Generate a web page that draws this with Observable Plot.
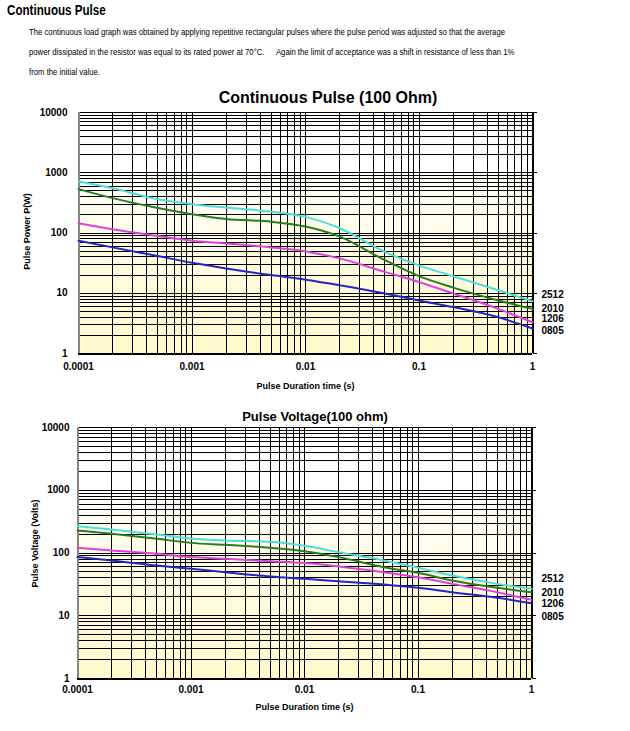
<!DOCTYPE html>
<html>
<head>
<meta charset="utf-8">
<script src="https://cdn.jsdelivr.net/npm/d3@7"></script>
<script src="https://cdn.jsdelivr.net/npm/@observablehq/plot@0.6"></script>
<style>
  body { margin: 0; background: #fff; }
  #page { position: relative; width: 630px; height: 731px; overflow: hidden; font-family: "Liberation Sans", Arial, sans-serif; }
  .abs { position: absolute; white-space: nowrap; }
  #head { left: 7px; top: 3px; font: bold 14px/14px "Liberation Sans", Arial, sans-serif; color: #000; transform: scaleX(0.83); transform-origin: 0 0; }
  #para { left: 29px; top: 22.3px; font: 9.5px/20px "Liberation Sans", Arial, sans-serif; color: #000; transform: scaleX(0.815); transform-origin: 0 0; }
  #para .gap { display: inline-block; width: 14px; }
  .title { left: 0; width: 630px; text-align: center; font-weight: bold; color: #000; z-index: 2; }
  #t1 { top: 89.8px; font-size: 16px; line-height: 16px; padding-left: 26px; box-sizing: border-box; }
  #t2 { top: 409.7px; font-size: 13px; line-height: 13px; }
  #c1 { left: 0; top: 105px; }
  #c2 { left: 0; top: 420px; }
</style>
</head>
<body>
<div id="page">
  <div id="head" class="abs">Continuous Pulse</div>
  <div id="para" class="abs">The continuous load graph was obtained by applying repetitive rectangular pulses where the pulse period was adjusted so that the average<br>power dissipated in the resistor was equal to its rated power at 70°C.<span class="gap"></span>Again the limit of acceptance was a shift in resistance of less than 1%<br>from the initial value.</div>
  <div id="t1" class="abs title">Continuous Pulse (100 Ohm)</div>
  <div id="t2" class="abs title">Pulse Voltage(100 ohm)</div>
  <div id="c1" class="abs"></div>
  <div id="c2" class="abs"></div>
</div>
<script>
// ---------- data ----------
const sizes = ["2512", "2010", "1206", "0805"];
const pulseTime = [0.0001, 0.0002, 0.0005, 0.001, 0.002, 0.005, 0.01, 0.02, 0.05, 0.1, 0.2, 0.5, 1];

const power2512 = [716, 555, 363, 301, 264, 226, 185, 120, 48.6, 29, 19.2, 11.2, 7.4];
const power2010 = [535, 379, 259, 205, 171, 154, 128, 87, 35.5, 19.2, 12.4, 7.6, 5.5];
const power1206 = [145, 115, 89, 74.5, 67.2, 57.7, 49.5, 37.9, 22.6, 15.4, 9.9, 5.5, 3.3];
const power0805 = [74.5, 57.7, 41.4, 32, 25.8, 20, 16.8, 13.6, 9.9, 7.6, 5.9, 4.0, 2.6];

const volt2512 = [267, 237, 197, 170, 158, 151, 130, 103, 76, 58, 43.7, 32.2, 26.9];
const volt2010 = [229, 202, 168, 145, 135, 121, 107, 86, 59.4, 48.3, 36.4, 27.9, 23.7];
const volt1206 = [121, 110, 97, 86, 81, 74, 69, 61, 49.4, 41, 32.2, 23.7, 17.9];
const volt0805 = [86, 76, 63, 56, 49.4, 42.2, 38.8, 35.5, 31.5, 27.9, 23.7, 19.3, 15.8];

// where each size label sits (in data units, at t = 1)
const powerLabelAt = [9.3, 5.5, 3.76, 2.42];
const voltLabelAt = [38.8, 23.2, 15.5, 9.7];

const xTickValues = [0.0001, 0.001, 0.01, 0.1, 1];
const xTickLabels = ["0.0001", "0.001", "0.01", "0.1", "1"];
const yTickValues = [1, 10, 100, 1000, 10000];
const yTickLabels = ["1", "10", "100", "1000", "10000"];

const xLabel = "Pulse Duration time (s)";
const powerYLabel = "Pulse Power P(W)";
const voltYLabel = "Pulse Voltage (Volts)";

// ---------- styling ----------
const seriesColors = ["#4adfdf", "#2b7b1f", "#e23fe0", "#2424c8"];

function rows(seriesList) {
  return sizes.flatMap((s, k) => seriesList[k].map((v, i) => ({ t: pulseTime[i], v, size: s })));
}

function addGradient(svg, id) {
  const ns = "http://www.w3.org/2000/svg";
  const defs = document.createElementNS(ns, "defs");
  const lg = document.createElementNS(ns, "linearGradient");
  lg.setAttribute("id", id);
  lg.setAttribute("x1", "0"); lg.setAttribute("y1", "0");
  lg.setAttribute("x2", "0"); lg.setAttribute("y2", "1");
  [["0", "#ffffff"], ["0.22", "#ffffff"], ["0.5", "#fffde6"], ["1", "#fff9cc"]].forEach(([o, c]) => {
    const st = document.createElementNS(ns, "stop");
    st.setAttribute("offset", o); st.setAttribute("stop-color", c);
    lg.appendChild(st);
  });
  defs.appendChild(lg);
  svg.insertBefore(defs, svg.firstChild);
  const fr = svg.querySelector('[aria-label="frame"]');
  if (fr) {
    const r = fr.tagName.toLowerCase() === "rect" ? fr : fr.querySelector("rect");
    if (r) r.setAttribute("fill", `url(#${id})`);
  }
}

function makeChart(cfg) {
  const xDomain = [0.0001, 1];
  const yDomain = [1, 10000];
  const xGrid = d3.scaleLog().domain(xDomain).ticks();
  const yGrid = d3.scaleLog().domain(yDomain).ticks();
  const xFmt = d => xTickLabels[xTickValues.indexOf(d)] ?? "";
  const yFmt = d => yTickLabels[yTickValues.indexOf(d)] ?? "";
  const data = rows(cfg.series);
  const labelRows = sizes.map((s, k) => ({ t: 1, v: cfg.labelAt[k], size: s }));
  const hasAxisMarks = typeof Plot.axisX === "function";
  const crisp = { shapeRendering: "crispEdges" };

  const marks = [
    Plot.frame({ fill: "#fffce0" }),
    Plot.ruleX(xGrid, { stroke: "#000", strokeWidth: 1, ...crisp }),
    Plot.ruleY(yGrid, { stroke: "#000", strokeWidth: 1, ...crisp }),
    Plot.ruleX([1], { stroke: "#000", strokeWidth: 2, ...crisp }),
    Plot.ruleX([0.0001], { stroke: "#858585", strokeWidth: 2, ...crisp }),
    Plot.ruleY([1], { stroke: "#000", strokeWidth: 2, ...crisp }),
    Plot.line(data, { x: "t", y: "v", stroke: "size", strokeWidth: 2, curve: "monotone-x" }),
    Plot.text(labelRows, { x: "t", y: "v", text: "size", dx: cfg.labelDx, textAnchor: "start", lineAnchor: "middle", fontSize: 10, fontWeight: "bold", fill: "#000" }),
    Plot.text([xLabel], { frameAnchor: "bottom", dy: cfg.xLabelDy, textAnchor: "middle", lineAnchor: "middle", fontSize: 9, fontWeight: "bold", fill: "#000" }),
    Plot.text([cfg.yLabel], { frameAnchor: "left", dx: cfg.yLabelDx, dy: cfg.yLabelDy, rotate: -90, textAnchor: "middle", lineAnchor: "middle", fontSize: 9, fontWeight: "bold", fill: "#000" })
  ];
  if (hasAxisMarks) {
    marks.push(
      Plot.axisX(xTickValues, { tickSize: 0, tickPadding: cfg.xPad, tickFormat: xFmt, label: null, fontSize: 10, fontWeight: "bold" }),
      Plot.axisY(yTickValues, { anchor: "left", tickSize: 0, tickPadding: cfg.yPad, tickFormat: yFmt, label: null, fontSize: 10, fontWeight: "bold" }),
      Plot.axisY(yTickValues, { anchor: "right", tickSize: 4, tickFormat: () => "", label: null, ...crisp })
    );
  }

  const svg = Plot.plot({
    width: 630,
    height: cfg.height,
    marginTop: cfg.marginTop,
    marginBottom: cfg.marginBottom,
    marginLeft: cfg.marginLeft,
    marginRight: 630 - cfg.plotRight,
    style: { background: "none", fontFamily: "'Liberation Sans', Arial, sans-serif", fontSize: "10px", fontWeight: "bold", color: "#000" },
    x: { type: "log", domain: xDomain, ticks: xTickValues, tickFormat: xFmt, tickSize: 0, tickPadding: cfg.xPad, label: null },
    y: { type: "log", domain: yDomain, ticks: yTickValues, tickFormat: yFmt, tickSize: 0, tickPadding: cfg.yPad, label: null },
    color: { domain: sizes, range: seriesColors },
    marks
  });
  addGradient(svg, cfg.gradId);
  return svg;
}

document.getElementById("c1").appendChild(makeChart({
  series: [power2512, power2010, power1206, power0805],
  labelAt: powerLabelAt,
  yLabel: powerYLabel,
  height: 298, marginTop: 7, marginBottom: 50, marginLeft: 78, plotRight: 532,
  xPad: 9, yPad: 11, labelDx: 9, xLabelDy: 33, yLabelDx: -51, yLabelDy: -1.5,
  gradId: "g1"
}));

document.getElementById("c2").appendChild(makeChart({
  series: [volt2512, volt2010, volt1206, volt0805],
  labelAt: voltLabelAt,
  yLabel: voltYLabel,
  height: 303, marginTop: 7, marginBottom: 45, marginLeft: 77, plotRight: 531,
  xPad: 7, yPad: 8, labelDx: 10, xLabelDy: 29, yLabelDx: -42, yLabelDy: -9.5,
  gradId: "g2"
}));
</script>
</body>
</html>
